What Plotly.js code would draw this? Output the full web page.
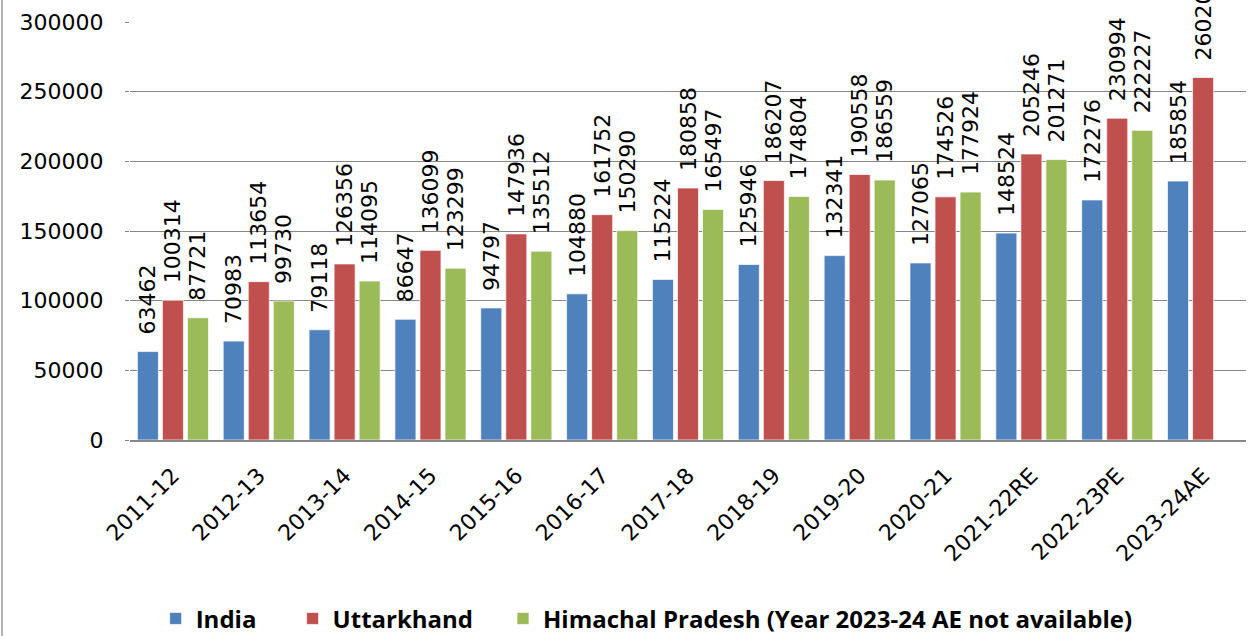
<!DOCTYPE html>
<html>
<head>
<meta charset="utf-8">
<script src="https://cdn.plot.ly/plotly-3.0.1.min.js"></script>
<style>
  html, body { margin: 0; padding: 0; background: #fff; }
  #chart { width: 1250px; height: 636px; }
</style>
</head>
<body>
<div id="chart"></div>
<script>
const categories = ['2011-12','2012-13','2013-14','2014-15','2015-16','2016-17','2017-18','2018-19','2019-20','2020-21','2021-22RE','2022-23PE','2023-24AE'];
const india = [63462, 70983, 79118, 86647, 94797, 104880, 115224, 125946, 132341, 127065, 148524, 172276, 185854];
const uttarkhand = [100314, 113654, 126356, 136099, 147936, 161752, 180858, 186207, 190558, 174526, 205246, 230994, 260209];
const himachal = [87721, 99730, 114095, 123299, 135512, 150290, 165497, 174804, 186559, 177924, 201271, 222227, null];
const seriesNames = ['India', 'Uttarkhand', 'Himachal Pradesh (Year 2023-24 AE not available)'];
const yTicks = [0, 50000, 100000, 150000, 200000, 250000, 300000];

const colors = ['#4F81BD', '#C0504D', '#9BBB59'];
const labelFont = {family: 'DejaVu Sans', size: 22, color: '#000'};
const nb = '\u00a0';

function mk(name, vals, color, padCount) {
  return {
    type: 'bar',
    name: name + nb.repeat(padCount),
    x: categories,
    y: vals,
    text: vals.map(v => v == null ? '' : String(v)),
    texttemplate: '\u00a0\u00a0%{text}',
    textposition: 'outside',
    textangle: -90,
    constraintext: 'none',
    cliponaxis: false,
    textfont: labelFont,
    marker: {color: color, line: {color: 'rgba(255,255,255,0.7)', width: 1}},
    hoverinfo: 'x+y'
  };
}

const data = [
  mk(seriesNames[0], india, colors[0], 5),
  mk(seriesNames[1], uttarkhand, colors[1], 4),
  mk(seriesNames[2], himachal, colors[2], 0)
];

const layout = {
  width: 1250,
  height: 636,
  margin: {l: 130, r: 4, t: 22, b: 196, pad: 0, autoexpand: false},
  paper_bgcolor: '#fff',
  plot_bgcolor: '#fff',
  barmode: 'group',
  bargap: 0.125,
  bargroupgap: 0.16,
  showlegend: true,
  legend: {
    orientation: 'h',
    x: 0.023, xanchor: 'left',
    yref: 'container',
    y: 0.027, yanchor: 'middle',
    font: {family: 'Open Sans', size: 24, color: '#000', weight: 'bold'},
    itemclick: false
  },
  xaxis: {
    type: 'category',
    automargin: false,
    tickangle: -45,
    tickfont: {family: 'DejaVu Sans', size: 22, color: '#000'},
    showgrid: false,
    showline: true,
    linecolor: '#888',
    linewidth: 2,
    ticks: '',
    ticklabelstandoff: 12,
    fixedrange: true
  },
  yaxis: {
    automargin: false,
    range: [0, 300000],
    tickvals: yTicks,
    ticktext: yTicks.map(String),
    tickfont: {family: 'DejaVu Sans', size: 22, color: '#000'},
    showgrid: true,
    gridcolor: '#868686',
    gridwidth: 1,
    zeroline: false,
    showline: false,
    ticks: 'outside',
    ticklen: 4,
    tickcolor: '#868686',
    ticklabelstandoff: 17,
    fixedrange: true
  },
  shapes: [
    {type: 'line', xref: 'paper', yref: 'paper', x0: -0.1147, x1: -0.1147, y0: -0.48, y1: 1.06,
     line: {color: '#999', width: 1.5}}
  ]
};

Plotly.newPlot('chart', data, layout, {displayModeBar: false, staticPlot: true});
</script>
</body>
</html>
